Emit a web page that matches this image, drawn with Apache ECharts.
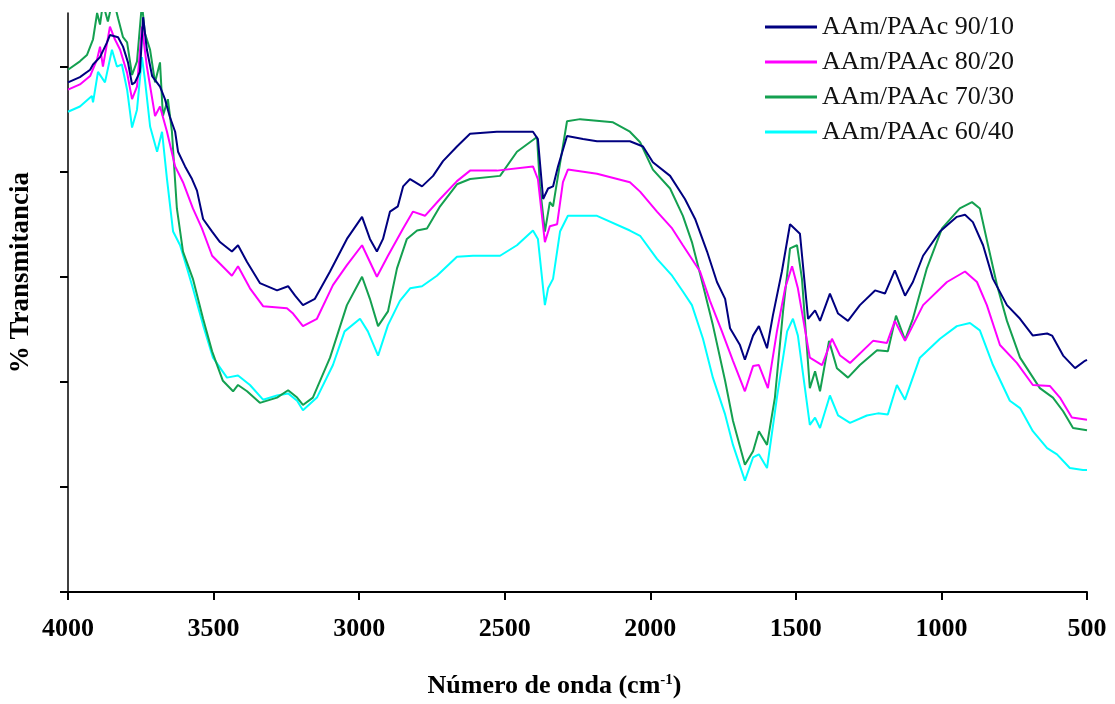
<!DOCTYPE html>
<html>
<head>
<meta charset="utf-8">
<script src="https://cdn.jsdelivr.net/npm/echarts@6/dist/echarts.min.js"></script>
<style>
html,body{margin:0;padding:0;background:#fff;}
#chart{width:1115px;height:704px;}
</style>
</head>
<body>
<div id="chart"></div>
<script>
// Series names
const seriesNames = ['AAm/PAAc 90/10', 'AAm/PAAc 80/20', 'AAm/PAAc 70/30', 'AAm/PAAc 60/40'];
// x axis ticks (wavenumber, cm-1)
const xTicks = [4000, 3500, 3000, 2500, 2000, 1500, 1000, 500];
// y axis ticks (transmittance, unlabeled)
const yTicks = [0, 10, 20, 30, 40, 50];

// [wavenumber, % transmittance]
const s9010 = [
[4000,48.5],[3959,49.0],[3924,49.7],[3914,50.2],[3890,50.9],[3866,52.3],[3856,53.0],[3828,52.8],[3811,51.9],[3794,50.4],
[3780,48.3],[3770,48.5],[3753,49.5],[3742,54.7],[3729,51.6],[3711,49.1],[3684,48.1],[3667,46.9],[3650,45.2],[3632,43.8],
[3622,41.9],[3598,40.5],[3574,39.3],[3557,38.2],[3536,35.5],[3505,34.3],[3478,33.3],[3437,32.4],[3416,33.0],[3385,31.4],
[3341,29.4],[3282,28.7],[3244,29.1],[3220,28.2],[3193,27.3],[3152,27.9],[3100,30.5],[3042,33.6],[2990,35.7],[2963,33.6],
[2939,32.4],[2918,33.6],[2894,36.2],[2867,36.7],[2849,38.6],[2825,39.3],[2784,38.6],[2746,39.6],[2712,41.0],[2664,42.4],
[2619,43.6],[2527,43.8],[2403,43.8],[2386,43.1],[2368,37.4],[2351,38.4],[2334,38.6],[2317,40.5],[2286,43.4],[2231,43.1],
[2183,42.9],[2070,42.9],[2025,42.4],[1991,40.9],[1932,39.6],[1881,37.4],[1846,35.5],[1805,32.4],[1771,29.5],[1743,27.9],
[1726,25.1],[1692,23.5],[1675,22.1],[1647,24.4],[1627,25.3],[1599,23.2],[1579,26.3],[1548,30.5],[1520,35.0],[1486,34.1],
[1458,26.0],[1434,26.8],[1417,25.8],[1383,28.4],[1355,26.5],[1321,25.8],[1280,27.3],[1228,28.7],[1194,28.4],[1160,30.6],
[1125,28.2],[1098,29.5],[1063,32.0],[1005,34.3],[947,35.7],[919,35.9],[892,35.2],[857,33.0],[823,29.8],[775,27.3],
[730,26.0],[686,24.4],[637,24.6],[620,24.4],[582,22.5],[541,21.3],[507,22.0],[500,22.1]
];
const s8020 = [
[4000,47.8],[3959,48.3],[3924,49.1],[3900,50.7],[3890,51.9],[3880,50.0],[3856,53.8],[3839,52.6],[3821,51.6],[3797,49.4],
[3780,46.9],[3763,48.1],[3746,53.8],[3729,50.0],[3701,45.3],[3684,46.2],[3660,43.8],[3632,40.5],[3605,39.0],[3571,36.5],
[3540,34.6],[3505,32.0],[3437,30.1],[3416,31.0],[3375,28.9],[3330,27.2],[3248,27.0],[3227,26.5],[3193,25.3],[3145,26.0],
[3090,29.2],[3042,31.1],[2990,33.0],[2939,30.0],[2901,32.0],[2849,34.6],[2815,36.2],[2774,35.8],[2722,37.4],[2664,39.1],
[2619,40.1],[2527,40.1],[2403,40.5],[2386,39.3],[2362,33.3],[2345,34.8],[2320,35.0],[2300,39.0],[2283,40.2],[2183,39.8],
[2070,39.0],[2035,38.1],[1977,36.2],[1925,34.6],[1888,33.0],[1829,30.5],[1795,27.7],[1754,24.8],[1716,22.0],[1675,19.1],
[1647,21.5],[1627,21.6],[1596,19.4],[1565,24.8],[1537,28.9],[1513,31.0],[1493,28.9],[1452,22.3],[1410,21.6],[1376,24.1],
[1348,22.5],[1314,21.8],[1235,23.9],[1187,23.7],[1160,25.8],[1125,23.9],[1063,27.3],[981,29.5],[919,30.5],[878,29.5],
[844,27.3],[799,23.5],[741,21.8],[686,19.7],[627,19.6],[593,18.5],[552,16.6],[500,16.4]
];
const s7030 = [
[4000,49.7],[3959,50.5],[3935,51.1],[3914,52.6],[3900,55.1],[3890,54.0],[3880,56.0],[3863,54.3],[3845,56.5],[3828,54.6],
[3811,52.8],[3797,52.3],[3780,49.2],[3763,50.5],[3746,56.0],[3736,53.2],[3718,51.6],[3701,48.5],[3684,50.4],[3674,45.3],
[3657,46.9],[3643,43.8],[3626,36.5],[3605,32.4],[3571,29.8],[3536,26.0],[3505,22.9],[3468,20.1],[3433,19.1],[3416,19.7],
[3385,19.1],[3341,18.0],[3282,18.5],[3244,19.2],[3213,18.5],[3193,17.8],[3159,18.5],[3100,22.3],[3042,27.3],[2990,30.0],
[2963,27.9],[2935,25.3],[2901,26.7],[2870,30.8],[2836,33.6],[2801,34.4],[2767,34.6],[2722,36.7],[2664,38.8],[2619,39.3],
[2516,39.6],[2458,41.9],[2389,43.3],[2379,38.6],[2362,34.3],[2345,37.1],[2334,36.7],[2317,39.6],[2286,44.8],[2241,45.0],
[2128,44.7],[2070,43.8],[2035,42.8],[1991,40.2],[1932,38.4],[1888,35.8],[1857,33.3],[1819,29.2],[1785,25.4],[1743,20.1],
[1716,16.3],[1675,12.1],[1647,13.4],[1627,15.3],[1599,14.0],[1572,18.5],[1544,26.7],[1520,32.7],[1496,33.0],[1479,29.8],
[1452,19.4],[1434,21.0],[1417,19.1],[1386,23.9],[1359,21.3],[1321,20.4],[1280,21.6],[1221,23.0],[1184,22.9],[1156,26.3],
[1125,24.0],[1098,26.0],[1050,30.8],[998,34.6],[937,36.5],[895,37.1],[868,36.5],[840,33.0],[809,29.2],[775,25.8],
[730,22.3],[662,19.4],[617,18.5],[582,17.2],[548,15.6],[500,15.4]
];
const s6040 = [
[4000,45.7],[3959,46.2],[3918,47.2],[3914,46.6],[3897,49.5],[3873,48.5],[3849,51.6],[3832,50.0],[3815,50.2],[3797,47.8],
[3780,44.2],[3763,45.9],[3746,50.9],[3736,48.8],[3718,44.3],[3694,41.9],[3677,43.8],[3660,39.3],[3639,34.3],[3615,33.0],
[3591,30.8],[3571,28.9],[3536,25.4],[3502,22.3],[3454,20.4],[3416,20.6],[3375,19.7],[3330,18.3],[3282,18.7],[3244,18.9],
[3213,18.2],[3193,17.3],[3145,18.5],[3090,21.6],[3050,24.8],[2997,26.0],[2970,24.8],[2935,22.5],[2901,25.4],[2860,27.7],
[2825,28.9],[2784,29.1],[2733,30.1],[2664,31.9],[2609,32.0],[2516,32.0],[2458,33.0],[2403,34.4],[2386,33.6],[2362,27.3],
[2351,28.9],[2334,29.8],[2310,34.3],[2283,35.8],[2183,35.8],[2070,34.4],[2035,33.9],[1977,31.7],[1925,30.1],[1888,28.6],
[1857,27.3],[1819,24.1],[1785,20.4],[1743,16.9],[1716,14.0],[1675,10.6],[1647,12.8],[1627,13.1],[1599,11.8],[1565,18.5],
[1530,24.8],[1510,26.0],[1493,24.4],[1452,15.9],[1434,16.6],[1417,15.6],[1383,18.7],[1355,16.8],[1314,16.1],[1256,16.8],
[1218,17.0],[1184,16.9],[1153,19.7],[1125,18.3],[1074,22.3],[1005,24.1],[947,25.3],[902,25.6],[868,24.9],[823,21.6],
[765,18.2],[730,17.5],[686,15.3],[637,13.7],[603,13.1],[559,11.8],[514,11.6],[500,11.6]
];

const seriesData = [s9010, s8020, s7030, s6040];
const colors = ['#000080', '#ff00ff', '#14a050', '#00ffff'];

const chart = echarts.init(document.getElementById('chart'));
const serif = 'Liberation Serif';

chart.setOption({
  animation: false,
  backgroundColor: '#ffffff',
  grid: { left: 68, right: 28, top: 13, bottom: 108, containLabel: false },
  legend: {
    data: seriesNames,
    orient: 'vertical',
    left: 760,
    top: 9,
    itemWidth: 52,
    itemHeight: 3,
    itemGap: 9,
    icon: 'rect',
    textStyle: { fontFamily: serif, fontSize: 26, color: '#111' }
  },
  xAxis: {
    type: 'value',
    inverse: true,
    min: 500,
    max: 4000,
    interval: 500,
    name: 'Número de onda (cm{sup|-1})',
    nameLocation: 'middle',
    nameGap: 81,
    nameTextStyle: {
      fontFamily: serif, fontSize: 26, fontWeight: 'bold', color: '#000',
      padding: [0, 46, 0, 0],
      rich: { sup: { fontFamily: serif, fontSize: 15, fontWeight: 'bold', verticalAlign: 'top', padding: [0, 0, 10, 0] } }
    },
    axisLine: { show: true, onZero: false, lineStyle: { color: '#000', width: 2 } },
    axisTick: { show: true, length: 8, lineStyle: { color: '#000', width: 2 } },
    axisLabel: { fontFamily: serif, fontSize: 26, fontWeight: 'bold', color: '#000', margin: 24,
      customValues: xTicks, formatter: v => String(v) },
    splitLine: { show: false }
  },
  yAxis: {
    type: 'value',
    min: 0,
    max: 55.1,
    axisLine: { show: true, lineStyle: { color: '#000', width: 1.5 } },
    axisTick: { show: true, length: 8, lineStyle: { color: '#000', width: 2 }, customValues: yTicks },
    axisLabel: { show: false },
    splitLine: { show: false }
  },
  graphic: [{
    type: 'text',
    left: 8,
    top: 172,
    rotation: Math.PI / 2,
    originX: 0, originY: 0,
    style: {
      text: '% Transmitancia',
      fontFamily: serif, fontSize: 27, fontWeight: 'bold', fill: '#000'
    }
  }],
  series: seriesNames.map((n, i) => ({
    name: n,
    type: 'line',
    data: seriesData[i],
    showSymbol: false,
    symbol: 'none',
    smooth: false,
    clip: true,
    color: colors[i],
    lineStyle: { color: colors[i], width: 2 },
    z: 10 - i
  }))
});
</script>
</body>
</html>
